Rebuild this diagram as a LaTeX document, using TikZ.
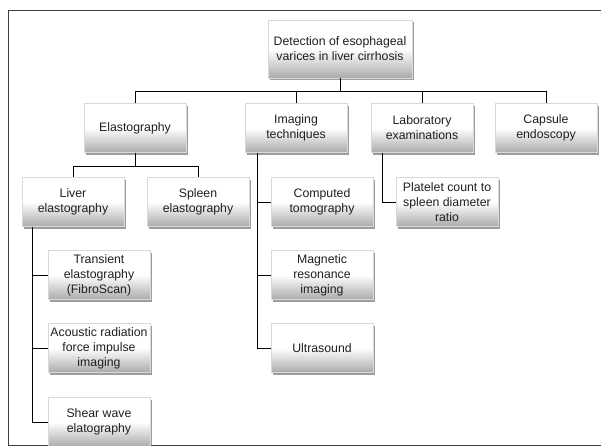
\documentclass[tikz,border=0pt]{standalone}
\usepackage{fontspec}
\setmainfont{Liberation Sans}
\usetikzlibrary{shadows}
\begin{document}
\begin{tikzpicture}[x=1pt,y=-1pt]
\tikzset{
 box/.style={rectangle, draw=black!15, line width=0.5pt, top color=white, bottom color=black!33, middle color=white,
   minimum width=102pt, minimum height=49pt, inner sep=0pt, align=center,
   font=\fontsize{12.3}{15}\selectfont, text=black!88,
   drop shadow={shadow xshift=1.6pt, shadow yshift=-2.2pt, opacity=0.55, fill=black!70}},
 conn/.style={draw=black, line width=0.9pt},
 frame/.style={draw=black!75, line width=0.8pt}
}
\useasboundingbox (0,0) rectangle (601,446);
\draw[frame] (8,10) rectangle (608,445);
% nodes
\node[box, minimum width=144pt, minimum height=58pt] (root) at (340,49) {Detection of esophageal\\varices in liver cirrhosis};
\node[box] (elast) at (135,128) {Elastography};
\node[box] (img) at (296,128) {Imaging\\techniques};
\node[box] (lab) at (422,128) {Laboratory\\examinations};
\node[box] (cap) at (546,128) {Capsule\\endoscopy};
\node[box] (liver) at (73,202) {Liver\\elastography};
\node[box] (spleen) at (198,202) {Spleen\\elastography};
\node[box] (ct) at (322,202) {Computed\\tomography};
\node[box] (plt) at (447,202) {Platelet count to\\spleen diameter\\ratio};
\node[box] (te) at (99,275) {Transient\\elastography\\(FibroScan)};
\node[box] (mri) at (322,275) {Magnetic\\resonance\\imaging};
\node[box] (arfi) at (99,348) {Acoustic radiation\\force impulse\\imaging};
\node[box] (us) at (322,348) {Ultrasound};
\node[box] (swe) at (99,422) {Shear wave\\elatography};
% bus coordinates
\coordinate (bus1) at (0,91);
\coordinate (bus2) at (0,166);
\coordinate (lv) at (32,0);
\coordinate (iv) at (257,0);
\coordinate (bv) at (382,0);
% level 1
\draw[conn] (root.south) -- (root.south |- bus1);
\draw[conn] (elast.north) |- (bus1 -| cap.north) -- (cap.north);
\draw[conn] (img.north) -- (img.north |- bus1);
\draw[conn] (lab.north) -- (lab.north |- bus1);
% elastography
\draw[conn] (elast.south) -- (elast.south |- bus2);
\draw[conn] (liver.north) |- (bus2 -| spleen.north) -- (spleen.north);
% liver
\draw[conn] (lv |- liver.south) |- (swe.west);
\draw[conn] (lv |- te.west) -- (te.west);
\draw[conn] (lv |- arfi.west) -- (arfi.west);
% imaging
\draw[conn] (iv |- img.south) |- (us.west);
\draw[conn] (iv |- ct.west) -- (ct.west);
\draw[conn] (iv |- mri.west) -- (mri.west);
% lab
\draw[conn] (bv |- lab.south) |- (plt.west);
\end{tikzpicture}
\end{document}
